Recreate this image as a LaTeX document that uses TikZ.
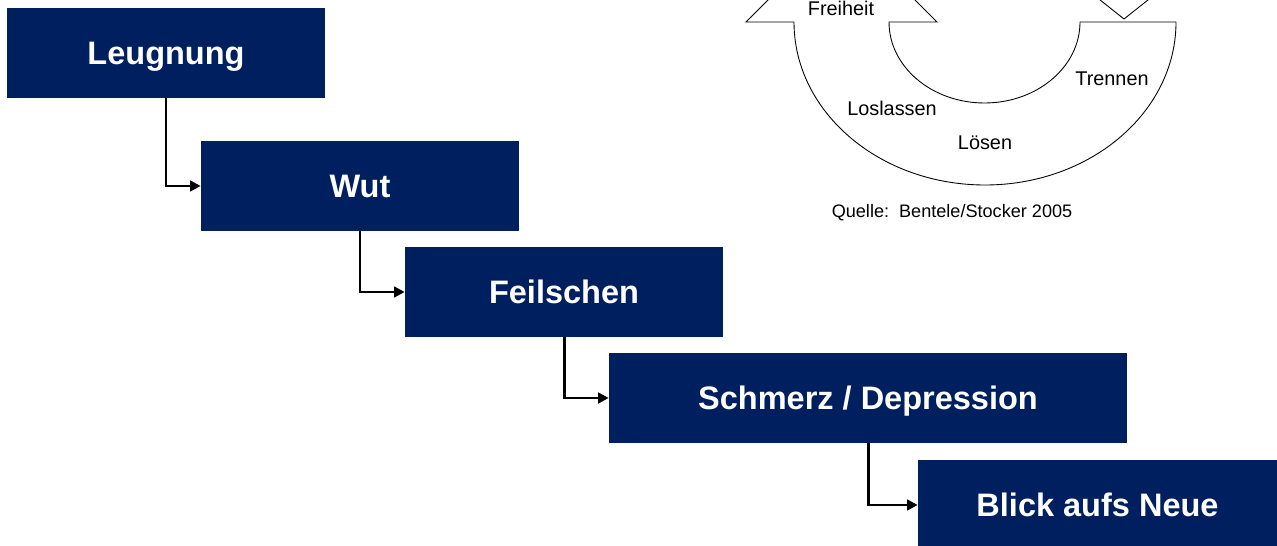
\documentclass[tikz,border=0pt]{standalone}
\usepackage{fontspec}
\setmainfont{Liberation Sans}
\usetikzlibrary{arrows.meta}

\begin{document}
\begin{tikzpicture}[x=0.02cm,y=-0.02cm,
    phase/.style={fill={rgb,255:red,0;green,31;blue,95}, text=white, inner sep=0pt,
        minimum height=1.8cm, text height=13.25pt, text depth=0pt,
        font=\fontsize{18.5}{22}\selectfont\bfseries},
    step arrow/.style={line width=1.7pt, -{Triangle[length=6pt,width=6pt]}},
    cycle label/.style={font=\fontsize{11.3}{13}\selectfont, inner sep=0pt}]
    \useasboundingbox (0,0) rectangle (1277,546);
    \clip (0,0) rectangle (1277,546);

    % phases
    \node[phase, minimum width=6.36cm] (leugnung) at (166,53) {Leugnung};
    \node[phase, minimum width=6.36cm] (wut) at (360,186) {Wut};
    \node[phase, minimum width=6.36cm] (feilschen) at (564,292) {Feilschen};
    \node[phase, minimum width=10.36cm] (schmerz) at (868,398) {Schmerz / Depression};
    \node[phase, minimum width=7.18cm] (blick) at (1097.5,505) {Blick aufs Neue};

    \draw[step arrow] (leugnung.south) |- (wut.west);
    \draw[step arrow] (wut.south) |- (feilschen.west);
    \draw[step arrow] (feilschen.south) |- (schmerz.west);
    \draw[step arrow] (schmerz.south) |- (blick.west);

    % cycle
    \draw[line width=0.5pt] (794,22) arc[start angle=180, end angle=0, x radius=191, y radius=163]
        -- (1080,22) arc[start angle=0, end angle=180, x radius=95.5, y radius=81]
        -- (937,22) -- (841.5,-73.5) -- (746,22) -- cycle;
    \draw[line width=0.5pt] (1090,-8) -- (1124,19) -- (1158,-8);

    \node[cycle label] (freiheit) at (841,8) {Freiheit};
    \node[cycle label] (trennen) at (1112,79) {Trennen};
    \node[cycle label] (loslassen) at (892,108) {Loslassen};
    \node[cycle label] (loesen) at (985,143) {Lösen};
    \node[font=\fontsize{10.3}{12}\selectfont, inner sep=0pt] (quelle) at (952,213) {Quelle:\ \ Bentele/Stocker 2005};
\end{tikzpicture}
\end{document}
